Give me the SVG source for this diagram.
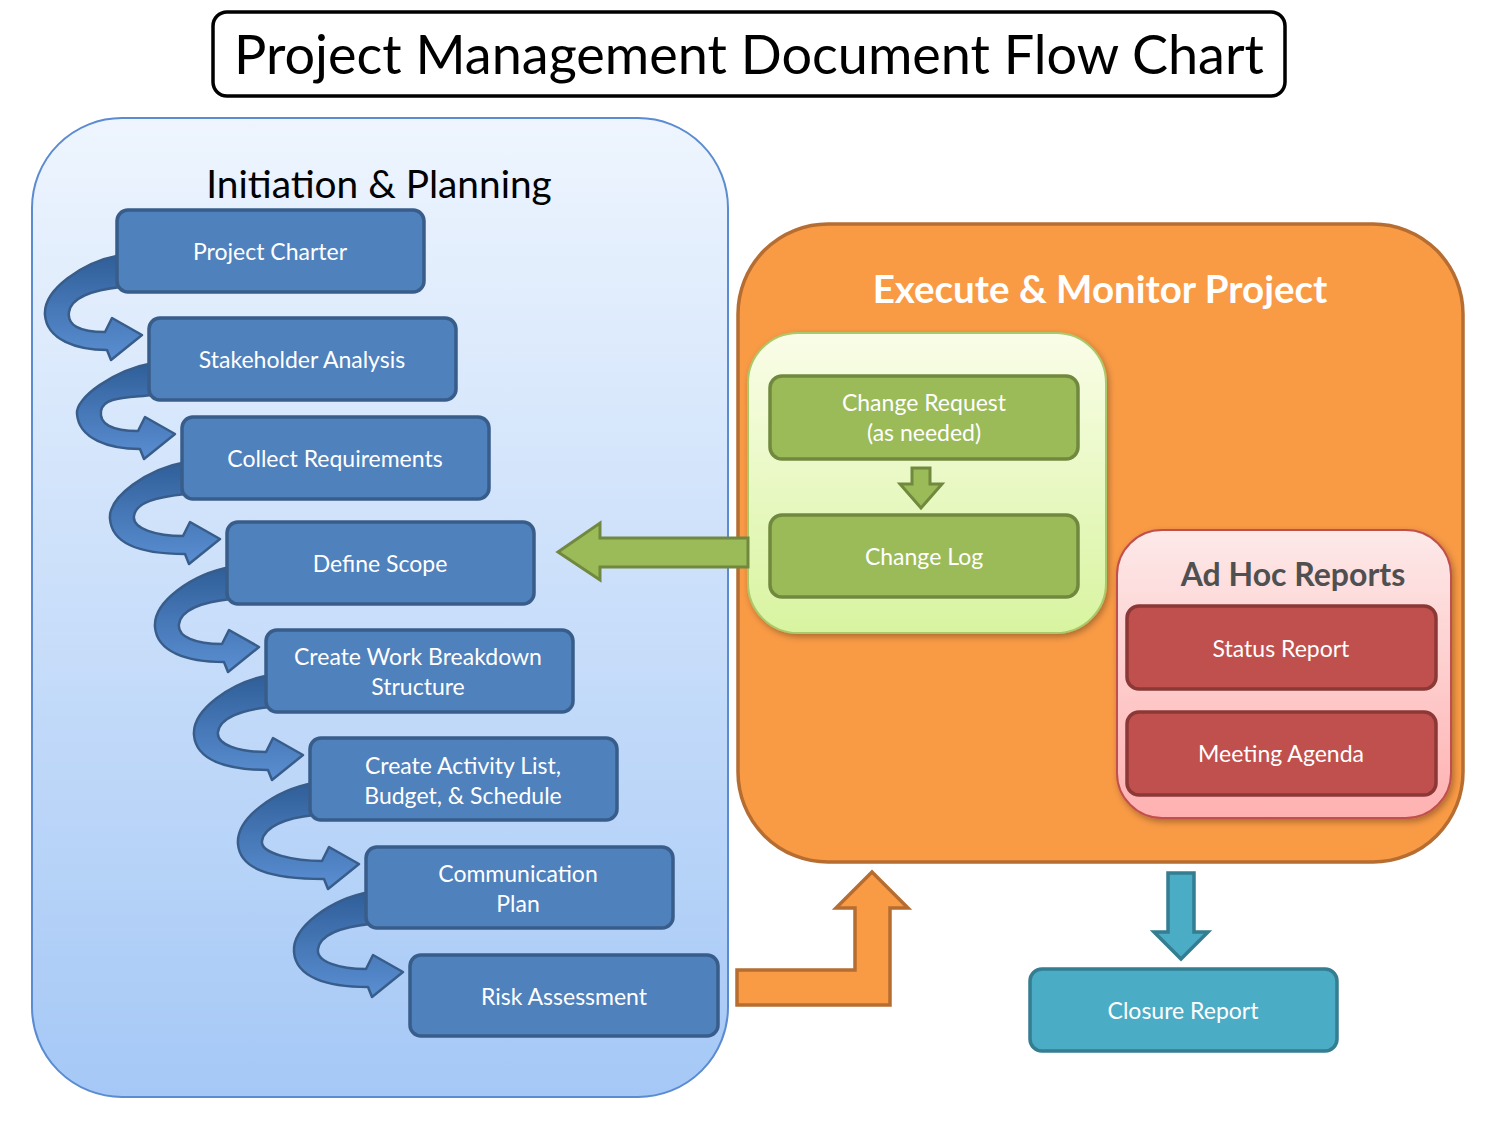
<svg xmlns="http://www.w3.org/2000/svg" width="1500" height="1125" viewBox="0 0 1500 1125">
<style>
.t{font-family:Lato,"Open Sans","Liberation Sans",sans-serif;fill:#ffffff;text-anchor:middle;font-size:23px}
.bb{fill:#4f81bd;stroke:#385d8a;stroke-width:3.5}
.gb{fill:#9bbb59;stroke:#71893f;stroke-width:3.5}
.rb{fill:#c0504d;stroke:#8c3836;stroke-width:3.5}
.cb{fill:#4bacc6;stroke:#357d91;stroke-width:3.5}
.ca{fill:url(#curv);stroke:#385d8a;stroke-width:2.5;stroke-linejoin:round}
</style>
<defs>
<linearGradient id="bluep" x1="0" y1="0" x2="0" y2="1"><stop offset="0" stop-color="#eef5fe"/><stop offset="1" stop-color="#a5c8f6"/></linearGradient>
<linearGradient id="greenp" x1="0" y1="0" x2="0" y2="1"><stop offset="0" stop-color="#fafde8"/><stop offset="1" stop-color="#d8f4a0"/></linearGradient>
<linearGradient id="pinkp" x1="0" y1="0" x2="0" y2="1"><stop offset="0" stop-color="#fde9e9"/><stop offset="1" stop-color="#ffb1b1"/></linearGradient>
<linearGradient id="curv" x1="0" y1="0" x2="0" y2="1"><stop offset="0" stop-color="#2f5e98"/><stop offset="0.5" stop-color="#4677b6"/><stop offset="1" stop-color="#5a8fd2"/></linearGradient>
<filter id="sh" x="-10%" y="-10%" width="125%" height="125%"><feDropShadow dx="2" dy="3" stdDeviation="3" flood-color="#000" flood-opacity="0.3"/></filter>
</defs>
<rect width="1500" height="1125" fill="#ffffff"/>

<g id="title">
<rect x="213" y="12" width="1072" height="84" rx="14" fill="#fff" stroke="#000" stroke-width="3.5"/>
<text x="749" y="74" font-family="Lato,'Open Sans','Liberation Sans',sans-serif" font-size="54" text-anchor="middle" fill="#000">Project Management Document Flow Chart</text>
</g>

<g id="initiation-panel">
<rect x="32" y="118" width="696" height="979" rx="90" fill="url(#bluep)" stroke="#5b8bd0" stroke-width="2"/>
<text x="379" y="198" font-family="Lato,'Open Sans','Liberation Sans',sans-serif" font-size="38.8" text-anchor="middle" fill="#000">Initiation &amp; Planning</text>
</g>

<g id="execute-panel">
<rect x="738" y="224" width="725" height="638" rx="90" fill="#f99a45" stroke="#b66d31" stroke-width="3.5"/>
<text x="1100" y="303" font-family="Lato,'Open Sans','Liberation Sans',sans-serif" font-size="38.5" font-weight="bold" text-anchor="middle" fill="#ffffff">Execute &amp; Monitor Project</text>
</g>

<g id="change-panel">
<rect x="748" y="333" width="358" height="300" rx="50" fill="url(#greenp)" stroke="#a9c96a" stroke-width="2" filter="url(#sh)"/>
</g>

<g id="adhoc-panel">
<rect x="1117" y="530" width="334" height="288" rx="45" fill="url(#pinkp)" stroke="#c0504d" stroke-width="2" filter="url(#sh)"/>
<text x="1293" y="586" font-family="Lato,'Open Sans','Liberation Sans',sans-serif" font-size="32" font-weight="bold" text-anchor="middle" fill="#505050">Ad Hoc Reports</text>
</g>

<g id="connectors">
<path class="ca" d="M121,255 C82,262 43,290 45,315 C47,340 77,350 107,350 L111,360 L142,335 L112,318 L105,332 C79,332 67,325 69,312 C71,298 92,290 121,287 Z"/>
<path class="ca" d="M153,363 C114,370 75,398 77,414 C79,439 109,449 140,449 L144,459 L175,434 L145,417 L138,431 C112,431 99,424 101,411 C103,397 124,398 153,395 Z"/>
<path class="ca" d="M186,462 C147,469 108,497 110,519 C112,544 142,554 185,554 L189,564 L220,539 L190,522 L183,536 C157,536 132,529 134,516 C136,502 157,497 186,494 Z"/>
<path class="ca" d="M231,567 C192,574 153,602 155,627 C157,652 187,662 224,662 L228,672 L259,647 L229,630 L222,644 C196,644 177,637 179,624 C181,610 202,602 231,599 Z"/>
<path class="ca" d="M270,675 C231,682 192,710 194,735 C196,760 226,770 268,770 L272,780 L303,755 L273,738 L266,752 C240,752 216,745 218,732 C220,718 241,710 270,707 Z"/>
<path class="ca" d="M314,783 C275,790 236,818 238,844 C240,869 270,879 324,879 L328,889 L359,864 L329,847 L322,861 C296,861 260,854 262,841 C264,827 285,818 314,815 Z"/>
<path class="ca" d="M370,892 C331,899 292,927 294,952 C296,977 326,987 368,987 L372,997 L403,972 L373,955 L366,969 C340,969 316,962 318,949 C320,935 341,927 370,924 Z"/>
<path d="M748,538 L600,538 L600,523 L558,552 L600,580 L600,567 L748,567 Z" fill="#9bbb59" stroke="#71893f" stroke-width="3" stroke-linejoin="miter"/>
<path d="M912,468 L930,468 L930,484 L942,484 L921,508 L900,484 L912,484 Z" fill="#9bbb59" stroke="#71893f" stroke-width="3"/>
<path d="M737,970 L855,970 L855,908 L836,908 L872,872 L908,908 L890,908 L890,1005 L737,1005 Z" fill="#f99a45" stroke="#b66d31" stroke-width="3.5"/>
<path d="M1168,873 L1194,873 L1194,932 L1208,932 L1181,959 L1154,932 L1168,932 Z" fill="#4bacc6" stroke="#357d91" stroke-width="3.5"/>
</g>

<g id="project-charter"><rect class="bb" x="117" y="210" width="307" height="82" rx="11"/><text class="t" x="270" y="252" dy="0.35em">Project Charter</text></g>
<g id="stakeholder-analysis"><rect class="bb" x="149" y="318" width="307" height="82" rx="11"/><text class="t" x="302" y="360" dy="0.35em">Stakeholder Analysis</text></g>
<g id="collect-requirements"><rect class="bb" x="182" y="417" width="307" height="82" rx="11"/><text class="t" x="335" y="459" dy="0.35em">Collect Requirements</text></g>
<g id="define-scope"><rect class="bb" x="227" y="522" width="307" height="82" rx="11"/><text class="t" x="380" y="564" dy="0.35em">Define Scope</text></g>
<g id="wbs"><rect class="bb" x="266" y="630" width="307" height="82" rx="11"/><text class="t" x="418" y="657" dy="0.35em">Create Work Breakdown</text><text class="t" x="418" y="687" dy="0.35em">Structure</text></g>
<g id="activity-list"><rect class="bb" x="310" y="738" width="307" height="82" rx="11"/><text class="t" x="463" y="766" dy="0.35em">Create Activity List,</text><text class="t" x="463" y="796" dy="0.35em">Budget, &amp; Schedule</text></g>
<g id="communication-plan"><rect class="bb" x="366" y="847" width="307" height="81" rx="11"/><text class="t" x="518" y="874" dy="0.35em">Communication</text><text class="t" x="518" y="904" dy="0.35em">Plan</text></g>
<g id="risk-assessment"><rect class="bb" x="410" y="955" width="308" height="81" rx="11"/><text class="t" x="564" y="997" dy="0.35em">Risk Assessment</text></g>

<g id="change-request"><rect class="gb" x="770" y="376" width="308" height="83" rx="12"/><text class="t" x="924" y="403" dy="0.35em" fill="#f2f7e4">Change Request</text><text class="t" x="924" y="433" dy="0.35em">(as needed)</text></g>
<g id="change-log"><rect class="gb" x="770" y="515" width="308" height="82" rx="12"/><text class="t" x="924" y="557" dy="0.35em">Change Log</text></g>

<g id="status-report"><rect class="rb" x="1127" y="606" width="309" height="83" rx="12"/><text class="t" x="1281" y="649" dy="0.35em">Status Report</text></g>
<g id="meeting-agenda"><rect class="rb" x="1127" y="712" width="309" height="83" rx="12"/><text class="t" x="1281" y="754" dy="0.35em">Meeting Agenda</text></g>

<g id="closure-report"><rect class="cb" x="1030" y="969" width="307" height="82" rx="12"/><text class="t" x="1183" y="1011" dy="0.35em">Closure Report</text></g>
</svg>
